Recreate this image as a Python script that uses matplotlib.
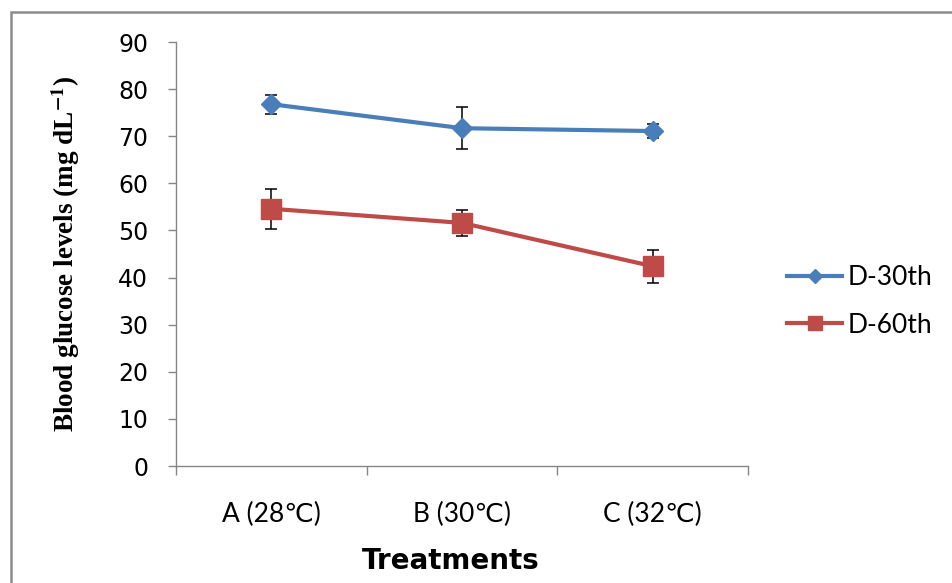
import matplotlib
matplotlib.use('Agg')
import matplotlib.pyplot as plt
import matplotlib.patches as mpatches
import numpy as np

# 数据
treatments = ['A (28\u2103)', 'B (30\u2103)', 'C (32\u2103)']
d30_mean = [76.8, 71.7, 71.1]
d30_err = [2.0, 4.4, 1.5]
d60_mean = [54.6, 51.6, 42.4]
d60_err = [4.2, 2.8, 3.5]
y_ticks = [0, 10, 20, 30, 40, 50, 60, 70, 80, 90]

plt.rcParams['axes.unicode_minus'] = False
plt.rcParams['mathtext.fontset'] = 'stix'

blue = '#4A7EBB'
red = '#BE4B48'
axis_gray = '#868686'

fig = plt.figure(figsize=(9.52, 5.83), dpi=100)
fig.patch.set_facecolor('white')

# 外框 (只露出上边和左边)
frame = mpatches.Rectangle((10.5 / 952, -0.2), 1.5, 1.2 - 12 / 583,
                           transform=fig.transFigure, fill=False,
                           edgecolor='#8C8C8C', linewidth=1.8)
fig.add_artist(frame)

ax = fig.add_axes([176 / 952, 1 - 466 / 583, (748 - 176) / 952, (466 - 42) / 583])
x = np.arange(len(treatments))

# 误差线
ax.errorbar(x, d30_mean, yerr=d30_err, fmt='none', ecolor='black',
            elinewidth=1.1, capsize=4.3, capthick=1.1, zorder=2)
ax.errorbar(x, d60_mean, yerr=d60_err, fmt='none', ecolor='black',
            elinewidth=1.1, capsize=4.3, capthick=1.1, zorder=2)

l1, = ax.plot(x, d30_mean, color=blue, linewidth=3, marker='D',
              markersize=10, markeredgecolor=blue, label='D-30th', zorder=3)
l2, = ax.plot(x, d60_mean, color=red, linewidth=3, marker='s',
              markersize=14, markeredgecolor=red, label='D-60th', zorder=3)

ax.set_xlim(-0.5, 2.5)
ax.set_ylim(0, 90)
ax.set_yticks(y_ticks)
ax.set_xticks(x)
ax.set_xticklabels(treatments, family=['Lato', 'DejaVu Sans'], fontsize=19)
ax.set_xticks([-0.5, 0.5, 1.5, 2.5], minor=True)

for s in ['top', 'right']:
    ax.spines[s].set_visible(False)
for s in ['left', 'bottom']:
    ax.spines[s].set_color(axis_gray)
    ax.spines[s].set_linewidth(1.0)

ax.tick_params(axis='y', direction='out', length=6, width=1.0, color=axis_gray,
               labelsize=17, pad=14, labelcolor='black')
ax.tick_params(axis='x', which='major', length=0, pad=26)
ax.tick_params(axis='x', which='minor', direction='out', length=6.5, width=1.0,
               color=axis_gray)

ax.set_ylabel(r'Blood glucose levels (mg dL$^{\mathbf{-1}}$)',
              fontfamily='Liberation Serif', fontweight='bold', fontsize=19.5)
ax.yaxis.set_label_coords(-0.165, 0.5)
ax.set_xlabel('Treatments', fontfamily='DejaVu Sans', fontweight='bold',
              fontsize=20)
ax.xaxis.set_label_coords(0.48, -0.19)

leg = ax.legend(handles=[l1, l2], loc='center left', bbox_to_anchor=(1.068, 0.388),
                frameon=False, prop={'family': 'Lato', 'size': 19},
                borderpad=0, borderaxespad=0,
                handlelength=2.1, handletextpad=0.2, labelspacing=0.85,
                markerscale=0.75)

plt.savefig('out.png', dpi=100, facecolor=fig.get_facecolor())
plt.close(fig)
